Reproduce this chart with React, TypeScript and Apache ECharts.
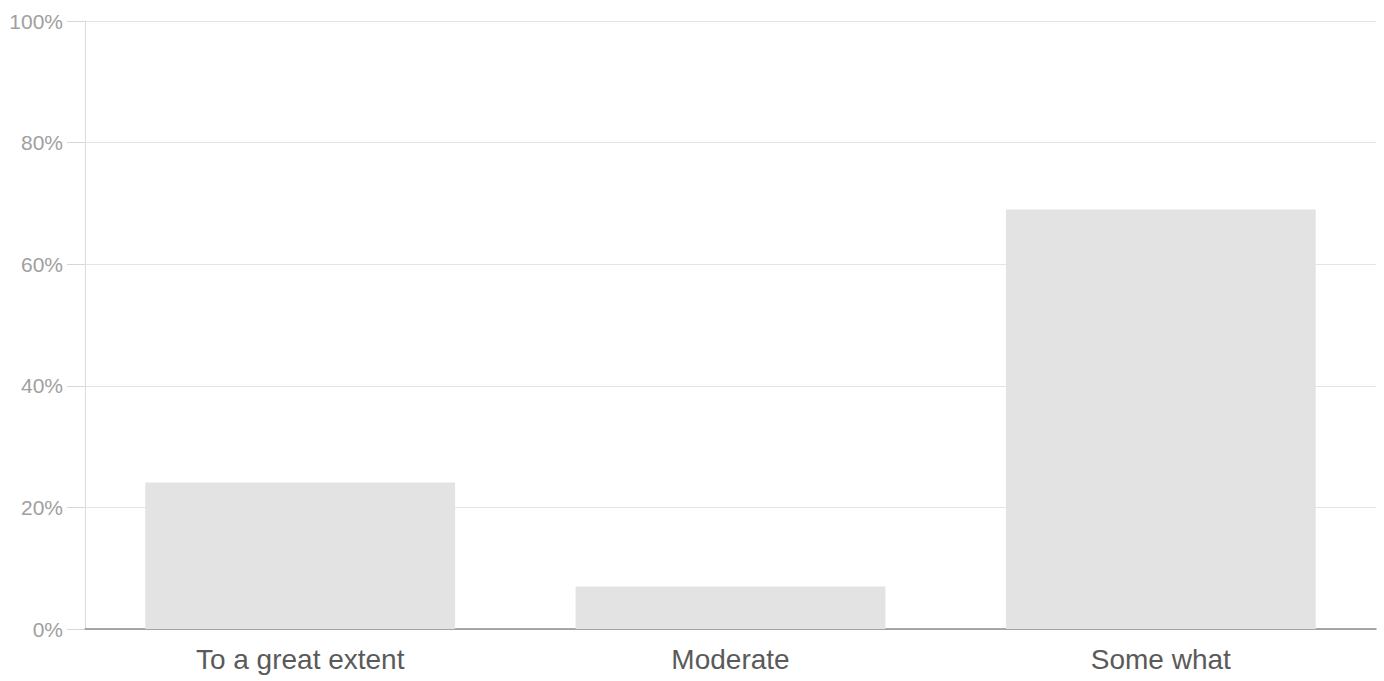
import React, { useEffect, useRef } from "react";
import * as echarts from "echarts";

const categories = ["To a great extent", "Moderate", "Some what"];
const values = [24.1, 7.0, 69.0];
const yTicks = [0, 20, 40, 60, 80, 100];

export default function App() {
  const ref = useRef<HTMLDivElement>(null);
  useEffect(() => {
    if (!ref.current) return;
    const chart = echarts.init(ref.current, undefined, { renderer: "svg" });
    chart.setOption({
      animation: false,
      backgroundColor: "#ffffff",
      grid: { left: 85, right: 8, top: 21, bottom: 52, containLabel: false },
      xAxis: {
        type: "category",
        data: categories,
        axisLine: { show: true, lineStyle: { color: "#8c8c8c", width: 1.5 } },
        axisTick: { show: false },
        axisLabel: {
          color: "#5a5a5a",
          fontSize: 28,
          fontFamily: "Liberation Sans, Arial, sans-serif",
          margin: 16,
        },
      },
      yAxis: {
        type: "value",
        min: yTicks[0],
        max: yTicks[yTicks.length - 1],
        interval: 20,
        axisLine: { show: true, lineStyle: { color: "#dcdcdc" } },
        axisTick: { show: true, inside: false, length: 18, lineStyle: { color: "#d6d6d6" } },
        splitLine: { lineStyle: { color: "#e4e4e4" } },
        axisLabel: {
          formatter: "{value}%",
          color: "#a0a0a0",
          fontSize: 21,
          fontFamily: "Liberation Sans, Arial, sans-serif",
          margin: 22,
        },
      },
      series: [
        {
          type: "bar",
          data: values,
          barWidth: "72%",
          itemStyle: { color: "#e3e3e3" },
        },
      ],
    });
    return () => chart.dispose();
  }, []);
  return (
    <div
      ref={ref}
      style={{ position: "fixed", left: 0, top: 0, width: 1384, height: 681 }}
    />
  );
}
